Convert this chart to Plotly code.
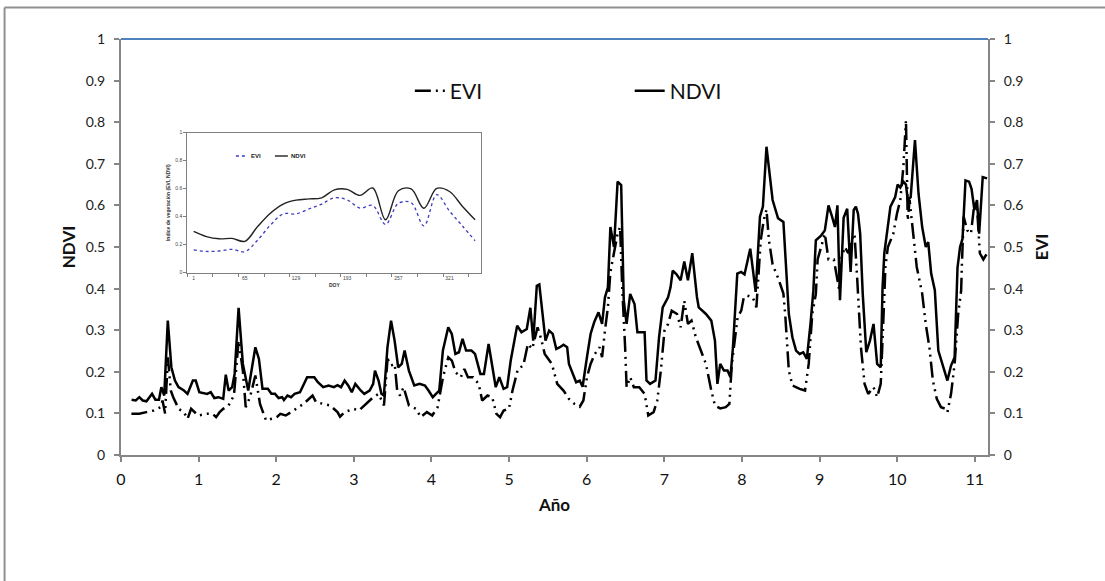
import plotly.graph_objects as go

# ---------------- main series (year, value) ----------------
ndvi_year = [0.136,0.19,0.236,0.28,0.328,0.40,0.443,0.489,0.52,0.557,0.603,0.649,0.695,0.741,0.811,0.857,0.926,0.963,1.009,1.064,1.11,1.156,1.202,1.257,1.317,1.35,1.386,1.432,1.464,1.515,1.570,1.639,1.731,1.777,1.823,1.892,1.938,1.984,2.03,2.076,2.099,2.145,2.191,2.237,2.306,2.398,2.49,2.536,2.605,2.674,2.743,2.789,2.835,2.881,2.927,2.973,3.019,3.088,3.134,3.203,3.249,3.272,3.318,3.355,3.387,3.433,3.479,3.525,3.571,3.617,3.654,3.709,3.778,3.847,3.916,3.962,4.017,4.1,4.147,4.216,4.262,4.308,4.354,4.4,4.446,4.515,4.561,4.63,4.676,4.736,4.782,4.828,4.874,4.929,4.975,5.021,5.104,5.159,5.228,5.274,5.311,5.357,5.389,5.435,5.469,5.516,5.562,5.608,5.655,5.701,5.748,5.771,5.817,5.864,5.91,5.947,6.003,6.05,6.096,6.152,6.198,6.235,6.273,6.305,6.352,6.398,6.444,6.477,6.514,6.56,6.616,6.653,6.746,6.77,6.816,6.886,6.932,6.979,7.048,7.08,7.108,7.155,7.21,7.257,7.304,7.36,7.42,7.443,7.536,7.605,7.652,7.684,7.72,7.768,7.814,7.852,7.884,7.907,7.94,7.99,8.033,8.107,8.177,8.232,8.27,8.316,8.395,8.465,8.534,8.604,8.65,8.697,8.743,8.79,8.836,8.883,8.92,8.952,9.022,9.068,9.115,9.161,9.198,9.23,9.263,9.31,9.356,9.4,9.44,9.468,9.495,9.523,9.556,9.602,9.649,9.695,9.742,9.788,9.811,9.834,9.866,9.913,9.974,10.006,10.04,10.08,10.113,10.136,10.174,10.229,10.275,10.322,10.368,10.4,10.438,10.485,10.53,10.577,10.647,10.694,10.74,10.777,10.81,10.842,10.88,10.926,10.958,10.995,11.028,11.056,11.102,11.158]
ndvi_val = [0.133,0.131,0.139,0.131,0.129,0.147,0.133,0.133,0.163,0.143,0.323,0.211,0.179,0.163,0.155,0.147,0.179,0.179,0.151,0.148,0.147,0.151,0.137,0.139,0.135,0.193,0.155,0.163,0.195,0.354,0.219,0.155,0.259,0.231,0.159,0.159,0.147,0.147,0.137,0.139,0.132,0.143,0.139,0.147,0.151,0.187,0.187,0.175,0.163,0.167,0.163,0.168,0.163,0.179,0.167,0.151,0.171,0.155,0.147,0.155,0.171,0.203,0.179,0.147,0.143,0.259,0.323,0.275,0.211,0.219,0.251,0.203,0.167,0.171,0.167,0.155,0.139,0.155,0.251,0.307,0.291,0.243,0.247,0.279,0.251,0.251,0.243,0.195,0.195,0.267,0.219,0.163,0.187,0.159,0.163,0.227,0.311,0.295,0.303,0.354,0.275,0.407,0.41,0.331,0.275,0.299,0.291,0.255,0.259,0.265,0.259,0.219,0.199,0.175,0.179,0.164,0.235,0.291,0.319,0.343,0.315,0.379,0.403,0.548,0.5,0.657,0.649,0.372,0.315,0.387,0.363,0.295,0.295,0.179,0.171,0.179,0.283,0.355,0.379,0.403,0.443,0.435,0.42,0.465,0.42,0.485,0.38,0.355,0.339,0.323,0.275,0.171,0.219,0.203,0.203,0.187,0.259,0.33,0.436,0.44,0.434,0.496,0.392,0.573,0.597,0.741,0.613,0.569,0.56,0.339,0.283,0.251,0.243,0.247,0.231,0.315,0.395,0.516,0.528,0.54,0.60,0.573,0.548,0.60,0.372,0.57,0.592,0.44,0.589,0.597,0.58,0.532,0.388,0.247,0.275,0.315,0.219,0.211,0.40,0.485,0.532,0.597,0.62,0.65,0.643,0.657,0.65,0.613,0.62,0.757,0.628,0.548,0.50,0.512,0.436,0.396,0.251,0.223,0.179,0.215,0.235,0.45,0.50,0.52,0.66,0.657,0.64,0.589,0.613,0.532,0.668,0.665]

evi_year = [0.134,0.235,0.327,0.42,0.512,0.535,0.568,0.604,0.641,0.673,0.742,0.811,0.857,0.903,0.995,1.11,1.179,1.225,1.271,1.317,1.386,1.455,1.515,1.57,1.607,1.662,1.731,1.791,1.837,1.869,1.938,2.007,2.053,2.122,2.191,2.26,2.352,2.468,2.513,2.605,2.697,2.789,2.822,2.881,2.997,3.066,3.158,3.25,3.319,3.388,3.434,3.48,3.526,3.558,3.595,3.641,3.71,3.802,3.862,3.941,4.01,4.079,4.148,4.217,4.263,4.309,4.378,4.424,4.47,4.539,4.608,4.653,4.722,4.782,4.837,4.884,4.93,4.998,5.044,5.114,5.183,5.242,5.298,5.367,5.413,5.459,5.551,5.62,5.701,5.771,5.841,5.91,5.957,6.003,6.05,6.105,6.166,6.198,6.235,6.273,6.305,6.352,6.398,6.43,6.458,6.495,6.514,6.56,6.607,6.677,6.746,6.793,6.862,6.909,6.955,7.002,7.048,7.095,7.164,7.21,7.257,7.304,7.35,7.406,7.466,7.536,7.605,7.652,7.72,7.791,7.838,7.87,7.907,7.944,7.991,8.024,8.07,8.14,8.186,8.242,8.28,8.316,8.348,8.395,8.465,8.534,8.557,8.604,8.65,8.743,8.813,8.86,8.906,8.952,8.975,9.068,9.115,9.184,9.254,9.277,9.324,9.37,9.417,9.45,9.486,9.533,9.58,9.626,9.695,9.742,9.788,9.811,9.834,9.848,9.88,9.95,9.997,10.04,10.08,10.113,10.136,10.16,10.206,10.252,10.322,10.368,10.415,10.46,10.51,10.564,10.624,10.647,10.694,10.74,10.786,10.824,10.833,10.856,10.903,10.95,10.995,11.028,11.065,11.11,11.158]
evi_val = [0.099,0.099,0.103,0.107,0.115,0.131,0.1,0.235,0.155,0.139,0.111,0.103,0.087,0.111,0.095,0.099,0.099,0.091,0.103,0.111,0.119,0.143,0.275,0.203,0.115,0.139,0.191,0.123,0.099,0.083,0.087,0.091,0.099,0.095,0.103,0.111,0.123,0.143,0.127,0.123,0.119,0.103,0.092,0.103,0.111,0.107,0.123,0.139,0.147,0.119,0.231,0.215,0.219,0.155,0.143,0.163,0.119,0.111,0.091,0.103,0.095,0.115,0.187,0.235,0.227,0.199,0.187,0.207,0.187,0.187,0.171,0.131,0.143,0.139,0.099,0.091,0.107,0.111,0.155,0.207,0.215,0.267,0.255,0.307,0.279,0.243,0.219,0.171,0.155,0.135,0.123,0.116,0.131,0.187,0.219,0.243,0.259,0.235,0.299,0.355,0.44,0.485,0.532,0.548,0.40,0.259,0.163,0.187,0.163,0.163,0.147,0.095,0.103,0.131,0.203,0.299,0.315,0.347,0.339,0.307,0.371,0.315,0.323,0.283,0.251,0.219,0.155,0.119,0.112,0.115,0.123,0.219,0.275,0.331,0.347,0.379,0.383,0.379,0.355,0.516,0.564,0.59,0.516,0.458,0.426,0.388,0.339,0.203,0.167,0.159,0.155,0.219,0.339,0.387,0.47,0.532,0.47,0.47,0.396,0.47,0.50,0.485,0.516,0.532,0.42,0.259,0.171,0.147,0.163,0.139,0.171,0.259,0.379,0.452,0.50,0.532,0.58,0.613,0.693,0.805,0.564,0.613,0.532,0.452,0.388,0.315,0.259,0.179,0.135,0.115,0.111,0.103,0.147,0.219,0.339,0.395,0.452,0.573,0.54,0.532,0.605,0.597,0.485,0.47,0.485]

# ---------------- inset series (16-day composites) ----------------
inset_doy = [1,17,33,49,65,81,97,113,129,145,161,177,193,209,225,241,257,273,289,305,321,337,353]
inset_ndvi = [0.295,0.258,0.242,0.245,0.224,0.33,0.425,0.49,0.518,0.527,0.535,0.592,0.595,0.552,0.605,0.378,0.585,0.598,0.46,0.602,0.58,0.475,0.378]
inset_evi = [0.163,0.152,0.155,0.167,0.15,0.233,0.34,0.42,0.42,0.455,0.49,0.535,0.52,0.462,0.48,0.345,0.495,0.5,0.335,0.557,0.44,0.335,0.228]
inset_ticks = [1,65,129,193,257,321]

main_xticks = list(range(0, 12))

W, H = 1105, 581
L, R, T, B = 121, 988.5, 39, 455
def px(xp):
    return (xp - L) / (R - L)
def py(yp):
    return (B - yp) / (B - T)

FONT = "Lato"
AX = "#868686"

fig = go.Figure()
fig.add_trace(go.Scatter(x=evi_year, y=evi_val, name="EVI", mode="lines", yaxis="y2",
                         line=dict(color="black", width=2.5, dash="16px,5px,2px,5px,2px,5px"),
                         legend="legend"))
fig.add_trace(go.Scatter(x=ndvi_year, y=ndvi_val, name="NDVI", mode="lines",
                         line=dict(color="black", width=2.5), legend="legend2"))

# inset
fig.add_trace(go.Scatter(x=inset_doy, y=inset_evi, name="EVI", mode="lines", xaxis="x3", yaxis="y3",
                         line=dict(color="#3b3bbf", width=1.3, dash="dot", shape="spline"), showlegend=False))
fig.add_trace(go.Scatter(x=inset_doy, y=inset_ndvi, name="NDVI", mode="lines", xaxis="x3", yaxis="y3",
                         line=dict(color="#222222", width=1.4, shape="spline"), showlegend=False))

axis_common = dict(showline=True, linecolor=AX, linewidth=2, ticks="outside", ticklen=5,
                   tickcolor=AX, tickwidth=1.5, showgrid=False, zeroline=False)

fig.update_layout(
    width=W, height=H,
    margin=dict(l=L, r=W - R, t=T, b=H - B, pad=0),
    paper_bgcolor="white", plot_bgcolor="white",
    font=dict(family=FONT, color="#222"),
    xaxis=dict(range=[0, 11.17], tickvals=main_xticks, tickfont=dict(size=16, color="#111"),
               title=dict(text="Año", font=dict(size=17, family=FONT, weight="bold", color="#111"), standoff=12),
               ticklabelstandoff=4, **axis_common),
    yaxis=dict(range=[0, 1], dtick=0.1, tickfont=dict(size=14, color="#222"),
               title=dict(text="NDVI", font=dict(size=17, family=FONT, weight="bold", color="#111"), standoff=6),
               ticklabelstandoff=6, **axis_common),
    yaxis2=dict(range=[0, 1], dtick=0.1, overlaying="y", side="right", anchor="x",
                tickfont=dict(size=14, color="#222"),
                title=dict(text="EVI", font=dict(size=17, family=FONT, weight="bold", color="#111"), standoff=14),
                ticklabelstandoff=6, **axis_common),
    xaxis3=dict(domain=[px(187.3), px(481.7)], anchor="y3", range=[-7, 361], tickvals=inset_ticks,
                ticks="", showline=True, mirror=True, linecolor="#808080", linewidth=1, showgrid=False, zeroline=False,
                tickfont=dict(size=5, family="Liberation Sans", color="#444"),
                minor=dict(tickvals=list(range(-7, 361, 32)), ticks="outside", ticklen=3, tickcolor="#808080"),
                title=dict(text="DOY", font=dict(size=5, family="Liberation Sans", weight="bold", color="#333"), standoff=3)),
    yaxis3=dict(domain=[py(272.7), py(132.7)], anchor="x3", range=[0, 1], dtick=0.2,
                ticks="outside", ticklen=3, tickcolor="#808080",
                showline=True, mirror=True, linecolor="#808080", linewidth=1, showgrid=False, zeroline=False,
                tickfont=dict(size=5, family="Liberation Sans", color="#444"),
                title=dict(text="Indice de vegetación (EVI, NDVI)",
                           font=dict(size=5, family="Liberation Sans", weight="bold", color="#333"), standoff=4)),
    legend=dict(x=px(410), y=py(91), xanchor="left", yanchor="middle", orientation="h",
                font=dict(size=21, family=FONT, color="#111"), bgcolor="rgba(0,0,0,0)"),
    legend2=dict(x=px(630), y=py(91), xanchor="left", yanchor="middle", orientation="h",
                 font=dict(size=21, family=FONT, color="#111"), bgcolor="rgba(0,0,0,0)"),
    showlegend=True,
)

shapes = [
    # blue top border of plot area
    dict(type="line", xref="paper", yref="paper", x0=0, x1=1, y0=1, y1=1, line=dict(color="#4F81BD", width=2),
         layer="above"),
    # outer chart frame (top and left)
    dict(type="line", xref="paper", yref="paper", x0=px(4.5), x1=px(1110), y0=py(7.5), y1=py(7.5),
         line=dict(color="#909090", width=2)),
    dict(type="line", xref="paper", yref="paper", x0=px(4.5), x1=px(4.5), y0=py(7.5), y1=py(590),
         line=dict(color="#909090", width=2)),
    # inset legend samples
    dict(type="line", xref="paper", yref="paper", x0=px(236), x1=px(248), y0=py(156), y1=py(156),
         line=dict(color="#3b3bbf", width=1.3, dash="dot")),
    dict(type="line", xref="paper", yref="paper", x0=px(275), x1=px(288), y0=py(156), y1=py(156),
         line=dict(color="#222222", width=1.4)),
]
annotations = [
    dict(xref="paper", yref="paper", x=px(249), y=py(156), text="EVI", showarrow=False, xanchor="left",
         yanchor="middle", font=dict(size=6, family="Liberation Sans", weight="bold", color="#222")),
    dict(xref="paper", yref="paper", x=px(289), y=py(156), text="NDVI", showarrow=False, xanchor="left",
         yanchor="middle", font=dict(size=6, family="Liberation Sans", weight="bold", color="#222")),
]
fig.update_layout(shapes=shapes, annotations=annotations)

fig.write_html("out.html", include_plotlyjs=True, config={"displayModeBar": False},
               post_script="document.body.style.margin='0';document.body.style.overflow='hidden';")
